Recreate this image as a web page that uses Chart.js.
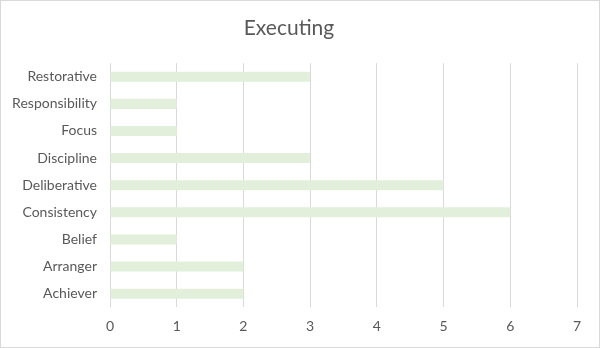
<!DOCTYPE html>
<html>
<head>
<meta charset="utf-8">
<script src="https://cdn.jsdelivr.net/npm/chart.js@4"></script>
<style>
  html, body { margin: 0; padding: 0; background: #fff; }
  #wrap {
    width: 600px; height: 348px; box-sizing: border-box;
    border: 1px solid #d9d9d9; background: #fff;
  }
  canvas { display: block; }
</style>
</head>
<body>
<div id="wrap"><canvas id="chart" width="598" height="346"></canvas></div>
<script>
// strengths in the Executing domain, listed top to bottom
const themes = ['Restorative', 'Responsibility', 'Focus', 'Discipline', 'Deliberative',
                'Consistency', 'Belief', 'Arranger', 'Achiever'];
const counts = [3, 1, 1, 3, 5, 6, 1, 2, 2];
const axisMin = 0;
const axisMax = 7;

const textColor = '#595959';
const gridColor = '#d9d9d9';
const fontFamily = 'Lato, "Open Sans", sans-serif';

new Chart(document.getElementById('chart'), {
    type: 'bar',
    data: {
        labels: themes,
        datasets: [{
            label: 'Executing',
            data: counts,
            backgroundColor: '#e2efda',
            borderWidth: 0,
            categoryPercentage: 1,
            barPercentage: 0.37
        }]
    },
    options: {
        indexAxis: 'y',
        responsive: false,
        animation: false,
        layout: { padding: { left: 0, right: 22, top: 9, bottom: 1 } },
        scales: {
            x: {
                min: axisMin,
                max: axisMax,
                ticks: { stepSize: 1, color: textColor, padding: 11, font: { family: fontFamily, size: 14 } },
                grid: { color: gridColor, lineWidth: 1, drawTicks: false },
                border: { display: false }
            },
            y: {
                afterFit: function (scale) { scale.width = 109; },
                ticks: { color: textColor, padding: 13, font: { family: fontFamily, size: 14 } },
                grid: { display: false, drawTicks: false },
                border: { display: false }
            }
        },
        plugins: {
            legend: { display: false },
            tooltip: { enabled: false },
            title: {
                display: true,
                text: 'Executing',
                color: textColor,
                font: { family: fontFamily, size: 21, weight: 'normal' },
                padding: { top: 6, bottom: 22 }
            }
        }
    }
});
</script>
</body>
</html>
